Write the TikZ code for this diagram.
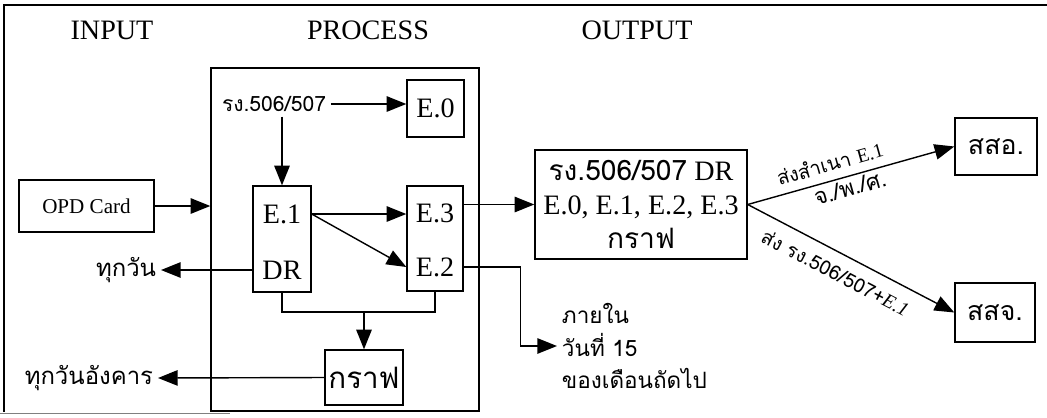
\documentclass[tikz,border=0pt]{standalone}
\usepackage{fontspec}
\setmainfont{Liberation Serif}
\newfontfamily\thaifont[Script=Thai]{Loma}
\usetikzlibrary{arrows.meta, positioning}

\begin{document}
\begin{tikzpicture}[
    x=0.025cm, y=-0.025cm,
    box/.style={draw, line width=1pt, inner sep=0pt},
    dims/.style 2 args={minimum width=#1*0.025cm, minimum height=#2*0.025cm},
    head/.style={font=\fontsize{20}{22}\selectfont},
    lat/.style={font=\fontsize{20}{22}\selectfont},
    thai/.style={font=\thaifont\fontsize{17}{23}\selectfont},
    tag/.style={font=\thaifont\fontsize{14}{16}\selectfont, inner sep=2pt},
    arr/.style={line width=1pt, -{Triangle[length=14pt, width=11pt]}},
    link/.style={line width=1pt},
]
\useasboundingbox (0,0) rectangle (1047,417);

% Frame
\draw[line width=1pt] (1047,5) -- (4,5) -- (4,412);
\draw[line width=0.6pt, gray] (0,413) -- (230,413);

% Headings
\node[head] (hin) at (112,30) {INPUT};
\node[head] (hproc) at (368,30) {PROCESS};
\node[head] (hout) at (637,30) {OUTPUT};

% Input
\node[box, dims={135}{52}, font=\fontsize{15}{17}\selectfont] (opd) at (86.5,206) {OPD Card};

% Process
\node[box, dims={268}{343}] (proc) at (345,239.5) {};
\node[thai, font=\thaifont\fontsize{15}{17}\selectfont] (src) at (274,104) {รง.506/507};
\node[box, dims={57}{57}, lat] (e0) at (435.5,108.5) {E.0};
\node[box, dims={58}{106}] (e1) at (282,239) {};
\node[lat] (e1t) at (282,214) {E.1};
\node[lat] (dr) at (282,270) {DR};
\node[box, dims={56}{105}] (e3) at (435,238.5) {};
\node[lat] (e3t) at (435,213) {E.3};
\node[lat] (e2t) at (435,267) {E.2};
\coordinate (join) at (364,312);
\node[box, dims={78}{55}, font=\thaifont\fontsize{21}{23}\selectfont] (graph) at (364,377.5) {กราฟ};
\node[thai, anchor=east] (daily) at (161,270) {ทุกวัน};
\node[thai, anchor=east] (weekly) at (158,378) {ทุกวันอังคาร};

% Output
\node[box, dims={212}{109}, align=center, font=\fontsize{20}{24}\selectfont] (out) at (641,204.5)
    {{\thaifont รง.506/507} DR\\E.0, E.1, E.2, E.3\\{\thaifont กราฟ}};
\node[thai, anchor=west, align=left, font=\thaifont\fontsize{16}{23}\selectfont] (month) at (557,346)
    {ภายใน\\วันที่ 15\\ของเดือนถัดไป};
\node[box, dims={82}{57}, font=\thaifont\fontsize{19}{21}\selectfont] (sso) at (996,146.5) {สสอ.};
\node[box, dims={80}{59}, font=\thaifont\fontsize{19}{21}\selectfont] (ssj) at (995,312.5) {สสจ.};

% Connectors
\draw[arr] (src.east) -- (src.east -| e0.west);
\draw[arr] (src.south -| e1.north) -- (e1.north);
\draw[arr] (opd.east) -- (opd.east -| proc.west);
\draw[arr] (e1.east |- e1t) -- (e3.west |- e1t);
\draw[arr] (e1.east |- e1t) -- (e3.west |- e2t);
\draw[arr] (e1.west |- dr) -- (daily.east);
\draw[link] (e1.south) |- (join) -| (e3.south);
\draw[arr] (join) -- (graph.north);
\draw[arr] (graph.west) -- (weekly.east);
\draw[arr] (e3.east |- out.west) -- (out.west);
\draw[arr] (e3.east |- e2t) -- ++(57,0) |- (month.west);
\draw[arr] (out.east) -- (sso.west)
    node[tag, pos=.42, sloped, above=4pt] {ส่งสำเนา {\rmfamily E.1}}
    node[tag, pos=.48, sloped, below=0pt, font=\thaifont\fontsize{16}{18}\selectfont] {จ./พ./ศ.};
\draw[arr] (out.east) -- (ssj.west)
    node[tag, pos=.47, sloped, below=6pt] {ส่ง รง.506/507+{\rmfamily\itshape E.1}};

\end{tikzpicture}
\end{document}
